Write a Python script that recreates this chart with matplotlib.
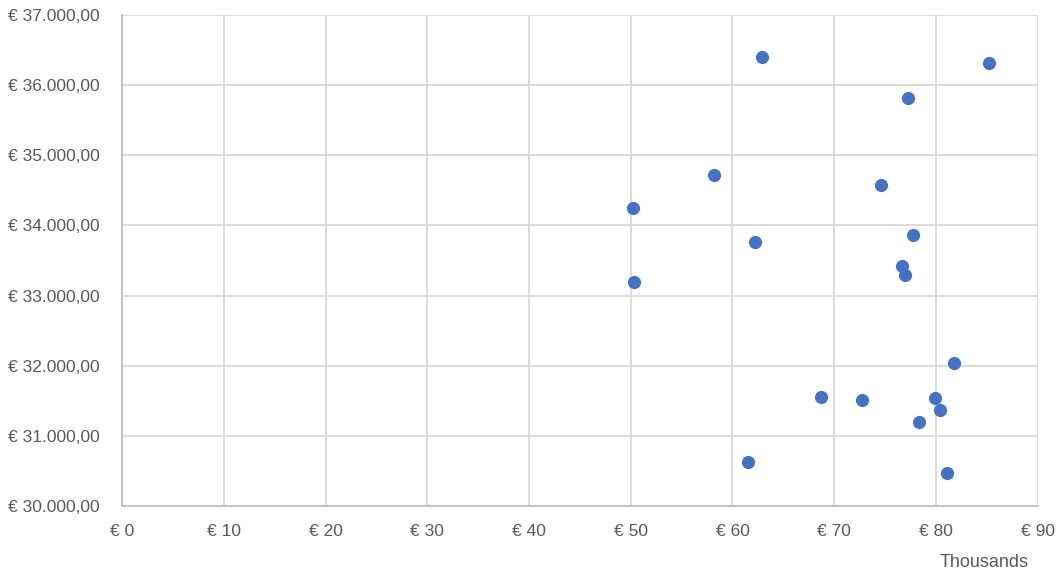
import matplotlib.pyplot as plt
from matplotlib.ticker import FuncFormatter, MultipleLocator

# Data (x in euros, y in euros)
income = [62870, 85180, 77220, 58180, 74570, 50190, 77710, 62210, 76630, 76920,
          50320, 81770, 68670, 72710, 79870, 80360, 78330, 61490, 81080]
cost = [36410, 36324, 35824, 34724, 34581, 34249, 33867, 33767, 33424, 33296,
        33191, 32039, 31553, 31510, 31534, 31367, 31191, 30624, 30463]

text_color = "#595959"
grid_color = "#d9d9d9"
plt.rcParams['font.family'] = ['Liberation Sans', 'DejaVu Sans']

fig = plt.figure(figsize=(10.64, 5.84), dpi=100)
ax = fig.add_axes([0.1147, 0.134, 0.8606, 0.8398])

ax.scatter(income, cost, s=90, color="#4472C4", zorder=3, linewidths=0)

ax.set_xlim(0, 90000)
ax.set_ylim(30000, 37000)
ax.xaxis.set_major_locator(MultipleLocator(10000))
ax.yaxis.set_major_locator(MultipleLocator(1000))

ax.xaxis.set_major_formatter(FuncFormatter(lambda v, p: f"€ {v / 1000:.0f}"))


def euro_fmt(v, p):
    s = f"{v:,.2f}"
    s = s.replace(",", "X").replace(".", ",").replace("X", ".")
    return f"€ {s}"


ax.yaxis.set_major_formatter(FuncFormatter(euro_fmt))

ax.grid(True, color=grid_color, linewidth=1.3, zorder=0)
for side in ["top", "right"]:
    ax.spines[side].set_visible(False)
for side in ["left", "bottom"]:
    ax.spines[side].set_color("#bfbfbf")
    ax.spines[side].set_linewidth(1.3)

ax.tick_params(axis="both", length=0, labelsize=12.5, labelcolor=text_color)
ax.tick_params(axis="y", pad=16)
ax.tick_params(axis="x", pad=13)

fig.text(0.925, 0.037, "Thousands", fontsize=13, color=text_color, ha="center", va="center")

fig.savefig("out.png", dpi=100)
